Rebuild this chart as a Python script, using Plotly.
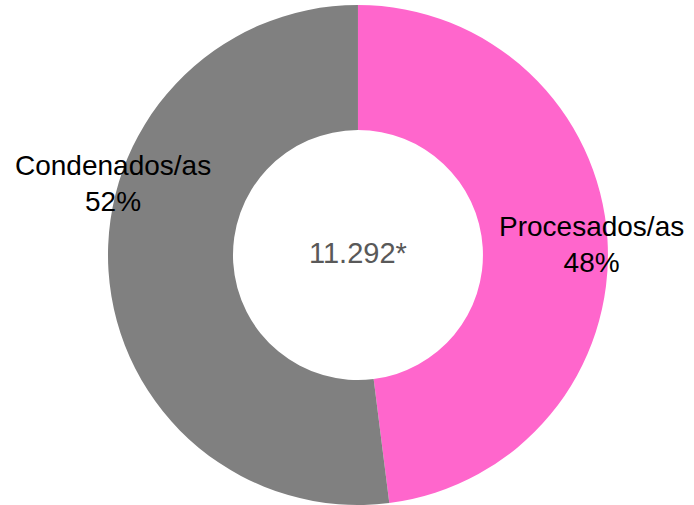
import plotly.graph_objects as go

labels = ["Procesados/as", "Condenados/as"]
shares = [48, 52]
colors = ["#FF66CC", "#808080"]
total_label = "11.292*"

fig = go.Figure()
fig.add_trace(
    go.Pie(
        labels=labels,
        values=shares,
        hole=0.5,
        sort=False,
        direction="clockwise",
        rotation=0,
        marker=dict(colors=colors, line=dict(width=0)),
        textinfo="none",
        hoverinfo="label+percent",
        showlegend=False,
        domain=dict(x=[0.1556, 0.876], y=[0.0, 0.99]),
    )
)

label_pos = {"Procesados/as": (0.853, 0.515), "Condenados/as": (0.163, 0.636)}
for name, val in zip(labels, shares):
    x, y = label_pos[name]
    fig.add_annotation(
        x=x, y=y, xref="paper", yref="paper",
        xanchor="center", yanchor="middle",
        text=f"{name}<br>{val}%",
        showarrow=False,
        font=dict(family="Liberation Sans, Arial", size=28, color="#000000"),
        align="center",
    )

fig.add_annotation(
    x=0.516, y=0.5, xref="paper", yref="paper",
    xanchor="center", yanchor="middle",
    text=total_label,
    showarrow=False,
    font=dict(family="Liberation Sans, Arial", size=29, color="#595959"),
)

fig.update_layout(
    width=694,
    height=505,
    margin=dict(l=0, r=0, t=0, b=0),
    paper_bgcolor="white",
    plot_bgcolor="white",
)

fig.write_html(
    "out.html",
    config={"displayModeBar": False},
    post_script="document.body.style.margin='0';",
)
